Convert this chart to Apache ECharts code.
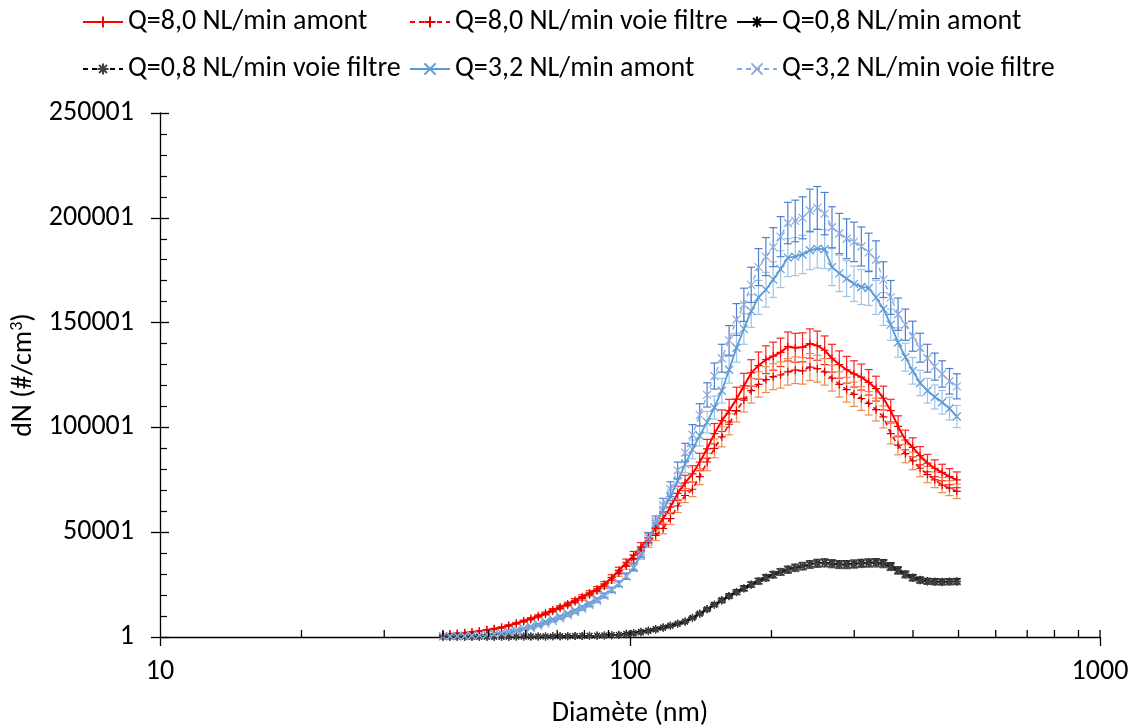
<!DOCTYPE html>
<html><head><meta charset="utf-8">
<script src="https://cdn.jsdelivr.net/npm/echarts@6/dist/echarts.min.js"></script>
<style>html,body{margin:0;padding:0;background:#fff}#c{width:1137px;height:726px}</style>
</head><body><div id="c"></div>
<script>
const diameters = [40.0,41.4,42.9,44.5,46.1,47.8,49.6,51.4,53.3,55.2,57.3,59.4,61.5,63.8,66.1,68.5,71.0,73.7,76.4,79.1,82.0,85.1,88.2,91.4,94.7,98.2,101.8,105.5,109.4,113.4,117.6,121.9,126.3,131.0,135.8,140.7,145.9,151.2,156.8,162.5,168.5,174.7,181.1,187.7,194.6,201.7,209.1,216.7,224.7,232.9,241.4,250.3,259.5,269.0,278.8,289.0,299.6,310.6,322.0,333.8,346.0,358.7,371.8,385.4,399.5,414.2,429.4,445.1,461.4,478.3,495.8];

const q80Amont = [1100,1400,1700,2000,2400,2800,3400,3900,4600,5600,6600,7700,8800,10100,11400,12900,14300,15800,17500,19200,21000,22900,25200,28300,31700,35400,38900,42900,47300,51800,56500,62000,68500,73500,77800,83500,89800,97000,103200,108000,113500,119800,126000,129500,132300,134000,135800,138600,138000,138200,140000,139000,136800,133000,130000,127500,125500,124000,121500,118500,114000,108000,100500,94000,90500,86500,83000,80500,78500,76500,75000];

const q80Filtre = [1000,1300,1600,1900,2300,2700,3200,3700,4400,5300,6300,7300,8400,9600,10900,12300,13700,15200,16800,18400,20200,22100,24300,27200,30500,34000,37500,41200,45000,48500,51800,56500,62500,67500,70500,76500,83500,90000,95500,101500,108000,113000,117500,120500,122800,124200,125000,126500,127300,127000,128800,128000,126500,123500,120500,118000,115800,113800,111500,108500,105000,97000,91500,87500,84000,80500,77500,75000,72500,71000,69500];

const q08Amont = [100,100,110,110,120,120,130,140,150,160,180,200,220,250,280,310,350,400,450,510,580,660,760,880,1020,1500,1900,2500,3100,3800,4600,5500,6400,7400,9200,11200,13300,15500,17600,19600,21500,23300,25000,26700,28400,29800,31100,32200,33100,33900,34700,35300,35500,35100,34700,34700,35000,35300,35500,35600,35200,33800,31900,30000,28400,27300,26700,26500,26400,26500,26600];

const q08Filtre = [90,100,100,110,110,120,130,130,140,150,170,190,210,240,270,300,340,380,430,490,560,640,740,860,1000,1250,1600,2100,2700,3500,4300,5200,6200,7300,9000,11000,13100,15300,17300,19400,21300,23100,24900,26600,28200,29700,31000,32000,32900,33700,34500,35000,35200,34800,34400,34300,34600,34900,35100,35200,34800,33400,31600,29700,28100,27000,26400,26200,26100,26200,26300];

const q32Amont = [400,450,500,600,700,900,1200,1500,2000,2600,3300,4100,5000,6100,7300,8500,9800,11200,12700,14300,16000,18000,20200,22700,25500,29000,33000,39000,46000,54000,60500,67000,74500,82500,89500,96000,102500,109500,117500,127500,138000,147000,155500,162000,165700,170500,175500,181000,181500,182500,184500,185300,185000,176500,173500,171000,168500,167000,166500,162000,156500,149000,140500,133500,127000,121200,117500,114500,112000,109000,105200];

const q32Filtre = [300,350,400,500,600,750,1000,1300,1700,2200,2800,3500,4300,5300,6400,7600,8900,10300,11800,13400,15200,17300,19600,22300,25300,29000,33500,40000,47500,55000,63000,70500,79500,88000,96500,106000,115500,124500,133000,141500,151500,158500,168000,176500,181500,186000,191000,197500,198500,200000,203500,204700,202000,195500,192500,190000,188500,186300,183500,180000,170500,162000,154000,149000,143500,138000,133000,129000,125500,122000,119600];

const seriesNames = ['Q=8,0 NL/min amont','Q=8,0 NL/min voie filtre','Q=0,8 NL/min amont','Q=0,8 NL/min voie filtre','Q=3,2 NL/min amont','Q=3,2 NL/min voie filtre'];
const relativeError = [0.05, 0.05, 0.05, 0.05, 0.05, 0.05];
const yTickLabels = ['1','50001','100001','150001','200001','250001'];
const xTickLabels = {10: '10', 100: '100', 1000: '1000'};
const xInnerTicks = [20,30,40,50,60,70,80,90,100,200,300,400,500,600,700,800,900,1000];

const FONT = 'Carlito, Lato, "Noto Sans", sans-serif';
const FS = 28;
const SYM_PLUS = 'path://M0,5L10,5M5,0L5,10';
const SYM_X = 'path://M0,0L10,10M10,0L0,10';
const SYM_STAR = 'path://M0,5L10,5M5,0L5,10M1.5,1.5L8.5,8.5M8.5,1.5L1.5,8.5';

const styles = [
  {line:'#FF0000', mk:'#FF0000', err:'#FF2020', dash:'solid', sym:SYM_PLUS, w:2},
  {line:'#FF0000', mk:'#E00000', err:'#F08A4B', dash:[5,4], sym:SYM_PLUS, w:1.6},
  {line:'#000000', mk:'#000000', err:'#333333', dash:'solid', sym:SYM_STAR, w:1.6},
  {line:'#000000', mk:'#404040', err:'#555555', dash:[5,4], sym:SYM_STAR, w:1.4},
  {line:'#5B9BD5', mk:'#5B9BD5', err:'#9DC3E6', dash:'solid', sym:SYM_X, w:1.8},
  {line:'#7FAEDD', mk:'#8FAADC', err:'#4F7FCF', dash:[5,4], sym:SYM_X, w:1.4}
];
const allValues = [q80Amont, q80Filtre, q08Amont, q08Filtre, q32Amont, q32Filtre];

const series = [];
allValues.forEach((vals, k) => {
  const st = styles[k];
  const e = relativeError[k];
  series.push({
    type: 'custom', name: seriesNames[k] + ' err', silent: true, z: 2,
    data: diameters.map((d, i) => [d, vals[i] * (1 - e), vals[i] * (1 + e)]),
    encode: {x: 0, y: [1, 2]},
    renderItem: (params, api) => {
      const x = api.value(0);
      const lo = api.coord([x, api.value(1)]);
      const hi = api.coord([x, api.value(2)]);
      const w = 4;
      const s = {stroke: st.err, lineWidth: 1.2};
      return {type: 'group', children: [
        {type: 'line', shape: {x1: lo[0], y1: lo[1], x2: hi[0], y2: hi[1]}, style: s},
        {type: 'line', shape: {x1: lo[0] - w, y1: lo[1], x2: lo[0] + w, y2: lo[1]}, style: s},
        {type: 'line', shape: {x1: hi[0] - w, y1: hi[1], x2: hi[0] + w, y2: hi[1]}, style: s}
      ]};
    }
  });
});
allValues.forEach((vals, k) => {
  const st = styles[k];
  series.push({
    type: 'line', name: seriesNames[k], z: 3,
    data: diameters.map((d, i) => [d, vals[i]]),
    symbol: st.sym, symbolSize: 8, showAllSymbol: true,
    lineStyle: {color: st.line, width: st.w, type: st.dash},
    itemStyle: {color: st.mk, borderColor: st.mk, borderWidth: 1.2},
    emphasis: {disabled: true}, animation: false
  });
});
series.push({
  type: 'custom', silent: true, z: 5, clip: false,
  data: xInnerTicks.map(v => [v, 0]),
  renderItem: (params, api) => {
    const p = api.coord([api.value(0), 0]);
    return {type: 'line', shape: {x1: p[0], y1: p[1], x2: p[0], y2: p[1] - 7}, style: {stroke: '#000', lineWidth: 1.3}};
  }
});

const legendPos = [[82, 8], [409, 8], [736, 8], [82, 55], [409, 55], [736, 55]];
const legend = seriesNames.map((n, k) => ({
  data: [n], left: legendPos[k][0], top: legendPos[k][1], padding: 0,
  itemWidth: 40, itemHeight: 14, selectedMode: false,
  textStyle: {fontSize: FS, color: '#000', fontFamily: FONT}
}));

const chart = echarts.init(document.getElementById('c'), null, {renderer: 'canvas'});
chart.setOption({
  animation: false,
  backgroundColor: '#fff',
  legend: legend,
  grid: {left: 160, right: 37, top: 113, bottom: 89, containLabel: false, outerBoundsMode: 'none'},
  xAxis: {
    type: 'log', logBase: 10, min: 10, max: 1000,
    name: 'Diamète (nm)', nameLocation: 'middle', nameGap: 63,
    nameTextStyle: {fontSize: FS, color: '#000', fontFamily: FONT},
    axisLine: {lineStyle: {color: '#000', width: 1.3}},
    axisTick: {length: 9, lineStyle: {color: '#000', width: 1.3}},
    axisLabel: {fontSize: FS, color: '#000', fontFamily: FONT, margin: 21,
      formatter: v => xTickLabels[Math.round(v)] || String(Math.round(v))},
    splitLine: {show: false}, minorTick: {show: false}
  },
  yAxis: [{
    type: 'value', min: 0, max: 250000, interval: 50000,
    name: 'dN (#/cm{s|3})', nameLocation: 'middle', nameGap: 113,
    nameTextStyle: {fontSize: FS, color: '#000', fontFamily: FONT,
      rich: {s: {fontSize: 18, color: '#000', fontFamily: FONT, verticalAlign: 'top', padding: [0, 0, 12, 0]}}},
    axisLine: {show: true, lineStyle: {color: '#000', width: 1.3}},
    axisTick: {show: true, inside: true, length: 9, lineStyle: {color: '#000', width: 1.3}},
    minorTick: {show: true, splitNumber: 5, length: 7, lineStyle: {color: '#000', width: 1.2}},
    axisLabel: {fontSize: FS, color: '#000', fontFamily: FONT, margin: 26,
      formatter: v => yTickLabels[Math.round(v / 50000)]},
    splitLine: {show: false}
  }, {
    type: 'value', min: 0, max: 250000, interval: 50000, position: 'left', offset: 0,
    axisLine: {show: false},
    axisTick: {show: true, inside: false, length: 9, lineStyle: {color: '#000', width: 1.3}},
    axisLabel: {show: false}, splitLine: {show: false}
  }],
  series: series
});
</script></body></html>
